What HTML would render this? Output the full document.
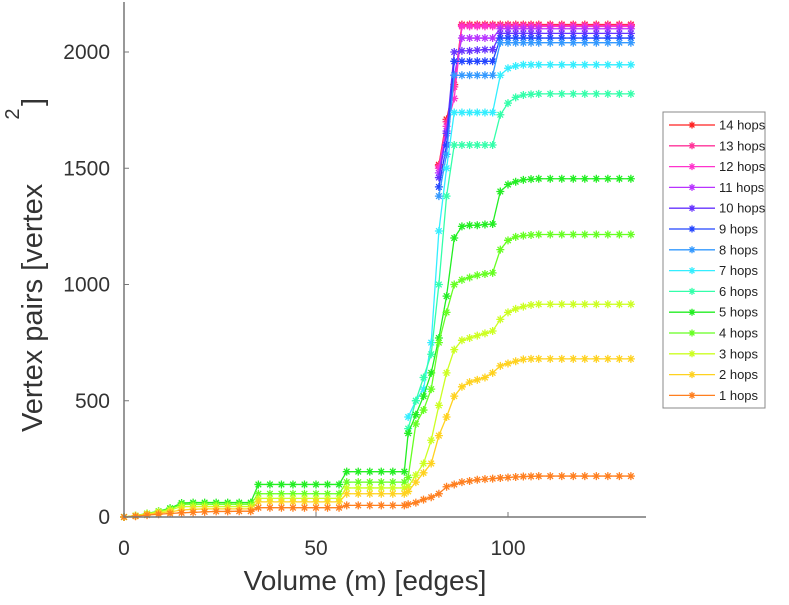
<!DOCTYPE html>
<html><head><meta charset="utf-8"><style>
body{margin:0;background:#fff;width:789px;height:600px;overflow:hidden;font-family:"Liberation Sans",sans-serif}
svg text{font-family:"Liberation Sans",sans-serif}
</style></head><body>
<svg id="chart" width="789" height="600" viewBox="0 0 789 600" xmlns="http://www.w3.org/2000/svg">
<g id="plot"></g>
<g id="axes"></g>
<g id="legend"></g>
</svg>
<script>
const labels=["1 hops","2 hops","3 hops","4 hops","5 hops","6 hops","7 hops","8 hops","9 hops","10 hops","11 hops","12 hops","13 hops","14 hops"];
const colors=["#ff7f1f","#ffd21f","#ccff22","#66ff22","#22ee22","#33ffaa","#33eeff","#3399ff","#2244ff","#6633ff","#b833ff","#ff33cc","#ff3399","#ff2020"];
const lowX=[0,3,6,9,12,15,18,21,24,27,30,33,35,38,41,44,47,50,53,56,58,61,64,67,70,73];
const lowY1=[0,3,8,12,15,18,20,22,24,24,25,25,40,40,40,40,40,40,40,40,50,50,50,50,50,50];
const lowY2=[0,5,12,18,22,30,33,35,35,35,35,35,65,65,65,65,65,65,65,65,100,100,100,100,100,100];
const lowY3=[0,6,14,22,30,45,45,45,45,45,45,45,80,80,80,80,80,80,80,80,125,125,125,125,125,125];
const lowY4=[0,6,14,24,35,55,55,55,55,55,55,55,100,100,100,100,100,100,100,100,150,150,150,150,150,150];
const lowY5=[0,6,15,25,38,60,62,62,62,62,62,62,140,140,140,140,140,140,140,140,195,195,195,195,195,195];
const hiX1=[74,76,78,80,82,84,86,88,90,92,94,96,98,100,102,104,106,108,111,114,117,120,123,126,129,132];
const hiY1=[55,62,75,85,100,130,140,150,155,160,163,165,168,170,172,174,175,176,176,176,176,176,176,176,176,176];
const hiY2=[110,150,190,230,350,430,520,560,580,590,600,620,650,660,670,678,680,680,680,680,680,680,680,680,680,680];
const hiY3=[130,180,230,330,480,620,720,760,770,780,790,800,850,880,895,905,912,915,915,915,915,915,915,915,915,915];
const hiY4=[170,400,460,550,750,880,1000,1020,1030,1040,1045,1050,1150,1190,1205,1210,1213,1215,1215,1215,1215,1215,1215,1215,1215,1215];
const hiY5=[360,440,520,620,770,950,1200,1250,1255,1255,1258,1260,1400,1430,1442,1450,1453,1455,1455,1455,1455,1455,1455,1455,1455,1455];
const hiY6=[380,500,600,700,1000,1380,1600,1600,1600,1600,1600,1600,1730,1780,1805,1815,1818,1820,1820,1820,1820,1820,1820,1820,1820,1820];
const hiY7=[430,500,550,750,1230,1500,1740,1740,1740,1740,1740,1740,1900,1930,1940,1945,1945,1945,1945,1945,1945,1945,1945,1945,1945,1945];
const topX=[82,84,86,88,90,92,94,96,98,100,102,104,106,108,111,114,117,120,123,126,129,132];
const topY8=[1380,1560,1900,1900,1900,1900,1900,1900,2040,2040,2040,2040,2040,2040,2040,2040,2040,2040,2040,2040,2040,2040];
const topY9=[1420,1600,1960,1960,1960,1960,1960,1960,2060,2060,2060,2060,2060,2060,2060,2060,2060,2060,2060,2060,2060,2060];
const topY10=[1460,1650,2000,2005,2005,2008,2010,2010,2080,2080,2080,2080,2080,2080,2080,2080,2080,2080,2080,2080,2080,2080];
const topY11=[1480,1660,1900,2060,2060,2060,2060,2060,2100,2100,2100,2100,2100,2100,2100,2100,2100,2100,2100,2100,2100,2100];
const topY12=[1500,1680,1800,2110,2110,2110,2110,2110,2110,2110,2110,2110,2110,2110,2110,2110,2110,2110,2110,2110,2110,2110];
const topY13=[1510,1700,1850,2115,2115,2115,2115,2115,2115,2115,2115,2115,2115,2115,2115,2115,2115,2115,2115,2115,2115,2115];
const topY14=[1515,1710,1860,2118,2118,2118,2118,2118,2118,2118,2118,2118,2118,2118,2118,2118,2118,2118,2118,2118,2118,2118];
const xTicks=[0,50,100];
const yTicks=[0,500,1000,1500,2000];

const X0=124,X1=646,Y0=517,Ytop=2;
const sx=v=>X0+v*3.84;
const sy=v=>Y0-v*0.2325;
const NS="http://www.w3.org/2000/svg";
function mk(t,a,p){const e=document.createElementNS(NS,t);for(const k in a)e.setAttribute(k,a[k]);p.appendChild(e);return e;}
const series=[
 [lowX.concat(hiX1),lowY1.concat(hiY1)],
 [lowX.concat(hiX1),lowY2.concat(hiY2)],
 [lowX.concat(hiX1),lowY3.concat(hiY3)],
 [lowX.concat(hiX1),lowY4.concat(hiY4)],
 [lowX.concat(hiX1),lowY5.concat(hiY5)],
 [hiX1,hiY6],[hiX1,hiY7],
 [topX,topY8],[topX,topY9],[topX,topY10],[topX,topY11],[topX,topY12],[topX,topY13],[topX,topY14]
];
function star(g,x,y,c,r){
 const d=`M${x-r},${y}H${x+r}M${x},${y-r}V${y+r}M${x-r*.7},${y-r*.7}L${x+r*.7},${y+r*.7}M${x-r*.7},${y+r*.7}L${x+r*.7},${y-r*.7}`;
 mk('path',{d:d,stroke:c,'stroke-width':1.3,fill:'none'},g);
}
const plot=document.getElementById('plot');
for(let i=series.length-1;i>=0;i--){
 const [xs,ys]=series[i];
 const g=mk('g',{},plot);
 
 
 const pts=xs.map((x,j)=>sx(x)+','+sy(ys[j])).join(' ');
 mk('polyline',{points:pts,fill:'none',stroke:colors[i],'stroke-width':1.3},g);
 xs.forEach((x,j)=>star(g,sx(x),sy(ys[j]),colors[i],4));
}
const axes=document.getElementById('axes');
const ax=mk('path',{d:`M${X0},${Ytop}V${Y0}H${X1}`,stroke:'#777','stroke-width':1.5,fill:'none'},axes);


xTicks.forEach(v=>{
 mk('line',{x1:sx(v),x2:sx(v),y1:Y0,y2:Y0-5,stroke:'#777'},axes);
 const t=mk('text',{x:sx(v),y:555,'text-anchor':'middle','font-size':21,fill:'#333'},axes);
 
 
 t.textContent=v;
});
yTicks.forEach(v=>{
 mk('line',{x1:X0,x2:X0+5,y1:sy(v),y2:sy(v),stroke:'#777'},axes);
 const t=mk('text',{x:110,y:sy(v)+7,'text-anchor':'end','font-size':21,fill:'#333'},axes);
 
 
 t.textContent=v;
});
const xt=mk('text',{x:365,y:590,'text-anchor':'middle','font-size':28,fill:'#333'},axes);


xt.textContent='Volume (m) [edges]';
const yt=mk('text',{x:0,y:0,'text-anchor':'start','font-size':29,fill:'#333',transform:'translate(42,432) rotate(-90)'},axes);


yt.textContent='Vertex pairs [vertex';
const yb=mk('text',{x:0,y:0,'text-anchor':'start','font-size':29,fill:'#333',transform:'translate(42,106) rotate(-90)'},axes);


yb.textContent=']';
const ys2=mk('text',{x:0,y:0,'text-anchor':'middle','font-size':20,fill:'#333',transform:'translate(19,114) rotate(-90)'},axes);


ys2.textContent='2';
const leg=document.getElementById('legend');
mk('rect',{x:663,y:112,width:102,height:296,fill:'#fff',stroke:'#888','stroke-width':1},leg);
for(let k=0;k<14;k++){
 const i=13-k;const y=125+k*20.8;
 const g=mk('g',{},leg);
 
 
 mk('line',{x1:669,x2:715,y1:y,y2:y,stroke:colors[i],'stroke-width':1.3},g);
 star(g,692,y,colors[i],3.5);
 const t=mk('text',{x:719,y:y+4.5,'font-size':13,fill:'#222'},g);
 t.textContent=labels[i];
}
</script>
</body></html>
